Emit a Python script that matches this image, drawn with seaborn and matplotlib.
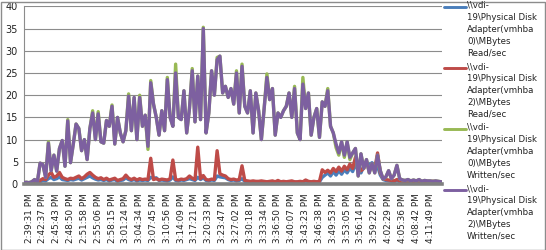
import numpy as np
import pandas as pd
import matplotlib
matplotlib.use("Agg")
import matplotlib.pyplot as plt
import seaborn as sns
from matplotlib.lines import Line2D
from matplotlib.patches import Rectangle

time_labels = ["2:39:31 PM", "2:42:37 PM", "2:45:43 PM", "2:48:50 PM", "2:51:58 PM",
               "2:55:06 PM", "2:58:15 PM", "3:01:24 PM", "3:04:34 PM", "3:07:45 PM",
               "3:10:56 PM", "3:14:09 PM", "3:17:21 PM", "3:20:33 PM", "3:23:47 PM",
               "3:27:02 PM", "3:30:18 PM", "3:33:34 PM", "3:36:50 PM", "3:40:07 PM",
               "3:43:23 PM", "3:46:38 PM", "3:49:53 PM", "3:53:05 PM", "3:56:14 PM",
               "3:59:22 PM", "4:02:29 PM", "4:05:36 PM", "4:08:42 PM", "4:11:49 PM"]

read_vmhba0 = [0.1,0.1,0.2,0.2,0.2,0.3,0.5,0.8,0.7,1.2,
 1.5,1.0,1.2,1.6,1.0,0.9,0.8,1.0,0.9,1.1,
 1.3,0.9,1.2,1.5,1.8,1.4,1.1,0.9,1.0,0.8,
 1.0,0.7,0.9,1.0,0.6,0.8,0.9,1.4,1.0,0.8,
 1.0,0.7,0.9,0.8,0.9,0.8,1.5,1.3,1.4,0.8,
 0.9,0.8,0.7,0.9,1.6,0.8,0.7,0.9,0.8,1.0,
 1.2,1.0,0.8,1.5,1.0,1.4,0.8,0.7,0.9,0.8,
 1.8,1.6,1.5,1.4,1.0,0.8,0.9,0.7,0.8,1.2,
 0.6,0.5,0.5,0.5,0.5,0.5,0.5,0.5,0.4,0.5,
 0.5,0.4,0.6,0.4,0.5,0.4,0.5,0.5,0.4,0.4,
 0.5,0.4,0.7,0.5,0.4,0.5,0.4,0.5,1.5,2.0,
 2.5,1.8,2.8,2.0,3.0,2.2,3.2,2.5,3.6,2.8,
 4.5,3.0,2.5,4.0,5.0,4.2,4.8,3.0,4.0,2.0,
 1.0,0.8,0.7,0.6,0.5,0.8,0.5,0.5,0.5,0.4,
 0.5,0.4,0.5,0.4,0.4,0.5,0.4,0.4,0.5,0.4,
 0.4,0.4]

read_vmhba2 = [0.2,0.2,0.3,0.3,0.3,0.4,0.8,1.2,1.0,2.0,
 2.6,1.5,1.8,2.6,1.5,1.2,1.0,1.3,1.2,1.5,
 1.8,1.2,1.6,2.2,2.6,2.0,1.5,1.2,1.4,1.0,
 1.3,0.9,1.1,1.3,0.8,1.0,1.2,2.0,1.3,1.0,
 1.3,0.9,1.2,1.0,1.1,1.0,5.8,1.0,1.2,0.9,
 1.1,1.0,0.9,1.2,5.4,1.0,0.9,1.1,1.0,1.2,
 1.8,1.3,1.0,8.3,1.2,1.9,1.0,0.9,1.1,1.0,
 7.5,2.3,2.0,1.8,1.2,1.0,1.1,0.9,1.0,4.1,
 0.8,0.7,0.6,0.7,0.6,0.6,0.7,0.6,0.5,0.6,
 0.7,0.5,0.8,0.5,0.6,0.5,0.6,0.7,0.5,0.5,
 0.6,0.5,0.9,0.6,0.5,0.6,0.5,0.6,3.2,2.6,
 3.1,2.5,3.5,2.8,3.8,2.9,4.0,3.2,4.5,3.5,
 6.0,4.5,3.0,3.5,5.0,3.0,4.0,3.5,7.0,2.5,
 1.2,1.0,0.9,0.8,0.7,1.0,0.7,0.6,0.6,0.5,
 0.6,0.5,0.6,0.5,0.5,0.6,0.5,0.5,0.6,0.5,
 0.5,0.5]

written_vmhba0 = [0.3,0.4,0.3,0.5,1.0,0.4,4.7,4.4,1.5,9.5,
 3.0,6.5,2.9,8.0,9.8,4.0,14.5,4.8,9.0,13.5,
 12.5,7.5,10.0,5.5,12.5,16.5,10.0,16.3,9.5,9.2,
 14.3,13.0,17.8,9.0,15.0,11.5,9.5,12.0,20.3,12.0,
 19.5,10.0,20.0,13.0,15.5,7.8,23.3,18.0,15.0,11.0,
 16.5,12.0,24.0,15.0,13.0,27.0,15.0,14.5,21.0,11.5,
 17.0,26.0,14.0,24.3,14.5,35.3,11.5,16.0,25.5,20.0,
 28.5,28.8,20.5,22.0,19.5,21.5,18.0,25.5,16.0,27.0,
 17.5,16.0,21.0,11.5,20.5,16.5,10.0,17.0,24.8,19.0,
 21.5,11.0,16.0,15.0,16.5,17.5,20.5,15.0,22.0,11.5,
 10.0,24.0,17.0,20.5,11.0,15.0,17.0,10.5,18.5,17.5,
 21.5,13.0,11.5,8.2,6.5,9.5,6.0,9.5,5.5,7.0,
 8.0,1.8,6.8,3.5,5.5,2.5,4.6,2.5,6.5,3.0,
 1.1,1.6,3.0,1.2,2.0,4.2,1.2,0.9,0.8,1.0,
 0.7,0.9,0.7,1.0,0.6,0.8,0.7,0.7,0.6,0.7,
 0.6,0.5]

written_vmhba2 = [0.3,0.4,0.3,0.5,1.0,0.4,4.7,4.4,1.5,9.2,
 3.0,6.5,2.9,8.0,9.8,4.0,14.2,4.8,9.0,13.5,
 12.5,7.5,10.0,5.5,12.5,16.0,10.0,15.8,9.5,9.2,
 14.3,13.0,17.5,9.0,15.0,11.5,9.5,12.0,19.8,12.0,
 19.5,10.0,19.5,13.0,15.5,8.5,22.8,18.0,15.0,11.0,
 16.5,12.0,23.5,15.0,13.0,25.0,15.0,14.5,21.0,11.5,
 17.0,25.5,14.0,24.3,14.5,35.0,11.5,16.0,25.5,20.0,
 28.0,28.8,20.5,22.0,19.5,21.5,18.0,25.0,16.0,26.5,
 17.5,16.0,21.0,11.5,20.5,16.5,10.0,17.0,24.0,19.0,
 21.5,11.0,16.0,15.0,16.5,17.5,20.5,15.0,21.5,11.5,
 10.0,22.5,17.0,20.5,11.0,15.0,17.0,10.5,18.5,17.5,
 21.0,13.0,11.5,9.0,7.0,9.5,6.5,9.5,6.0,7.0,
 8.0,1.8,6.8,3.5,5.5,2.5,4.6,2.5,6.5,3.0,
 1.1,1.6,3.0,1.2,2.0,4.2,1.2,0.9,0.8,1.0,
 0.7,0.9,0.7,1.0,0.6,0.8,0.7,0.7,0.6,0.7,
 0.6,0.5]

series_names = ["\\\\vdi-\n19\\Physical Disk\nAdapter(vmhba\n0)\\MBytes\nRead/sec",
                "\\\\vdi-\n19\\Physical Disk\nAdapter(vmhba\n2)\\MBytes\nRead/sec",
                "\\\\vdi-\n19\\Physical Disk\nAdapter(vmhba\n0)\\MBytes\nWritten/sec",
                "\\\\vdi-\n19\\Physical Disk\nAdapter(vmhba\n2)\\MBytes\nWritten/sec"]
series_values = [read_vmhba0, read_vmhba2, written_vmhba0, written_vmhba2]
colors = ["#4A7EBB", "#BE4B48", "#98B954", "#7D60A0"]

sns.set_style("white")
plt.rcParams['font.family'] = ['DejaVu Sans']

W, H = 546, 250
fig = plt.figure(figsize=(W / 100, H / 100), dpi=100)
ax = fig.add_axes([23.5 / W, 66 / H, (442 - 23.5) / W, (184 - 6.4) / H])

idx = np.arange(len(written_vmhba2))
frames = []
for name, vals in zip(series_names, series_values):
    frames.append(pd.DataFrame({"sample": idx, "value": vals, "series": name}))
df = pd.concat(frames, ignore_index=True)

sns.lineplot(data=df, x="sample", y="value", hue="series", palette=colors,
             hue_order=series_names, linewidth=2.4, ax=ax, legend=False, zorder=3)

ax.set_xlim(0, 151.3)
ax.set_ylim(0, 40)
ax.set_yticks(np.arange(0, 41, 5))
ax.yaxis.grid(True, color="#8C8C8C", linewidth=0.8)
ax.set_axisbelow(True)
tick_pos = [2 + 5 * k for k in range(len(time_labels))]
ax.set_xticks(tick_pos)
ax.set_xticklabels(time_labels, rotation=90, fontsize=6.4, color="#222222")
ax.tick_params(axis="x", length=0, pad=7)
ax.tick_params(axis="y", length=0, pad=4, labelsize=7, labelcolor="#222222")
ax.set_xlabel("")
ax.set_ylabel("")
for s in ["top", "right"]:
    ax.spines[s].set_visible(False)
ax.spines["left"].set_color("#8C8C8C")
ax.spines["left"].set_linewidth(0.8)
ax.spines["bottom"].set_color("#808080")
ax.spines["bottom"].set_linewidth(2.6)
ax.spines["bottom"].set_zorder(4)

# Manual legend (handle aligned with first line of each label)
for j, (name, c) in enumerate(zip(series_names, colors)):
    yline = 7 + 61 * j
    fig.add_artist(Line2D([444 / W, 466 / W], [1 - yline / H, 1 - yline / H],
                          color=c, linewidth=2.1, transform=fig.transFigure))
    fig.text(467 / W, 1 - (1 + 61 * j) / H, name, fontsize=6.2, va="top", ha="left",
             linespacing=1.42, color="#222222")

fig.add_artist(Rectangle((0.5 / W, 0.5 / H), (W - 2) / W, (H - 2) / H, fill=False,
                         edgecolor="#8C8C8C", linewidth=1.0, transform=fig.transFigure))

fig.savefig("out.png", dpi=100)
